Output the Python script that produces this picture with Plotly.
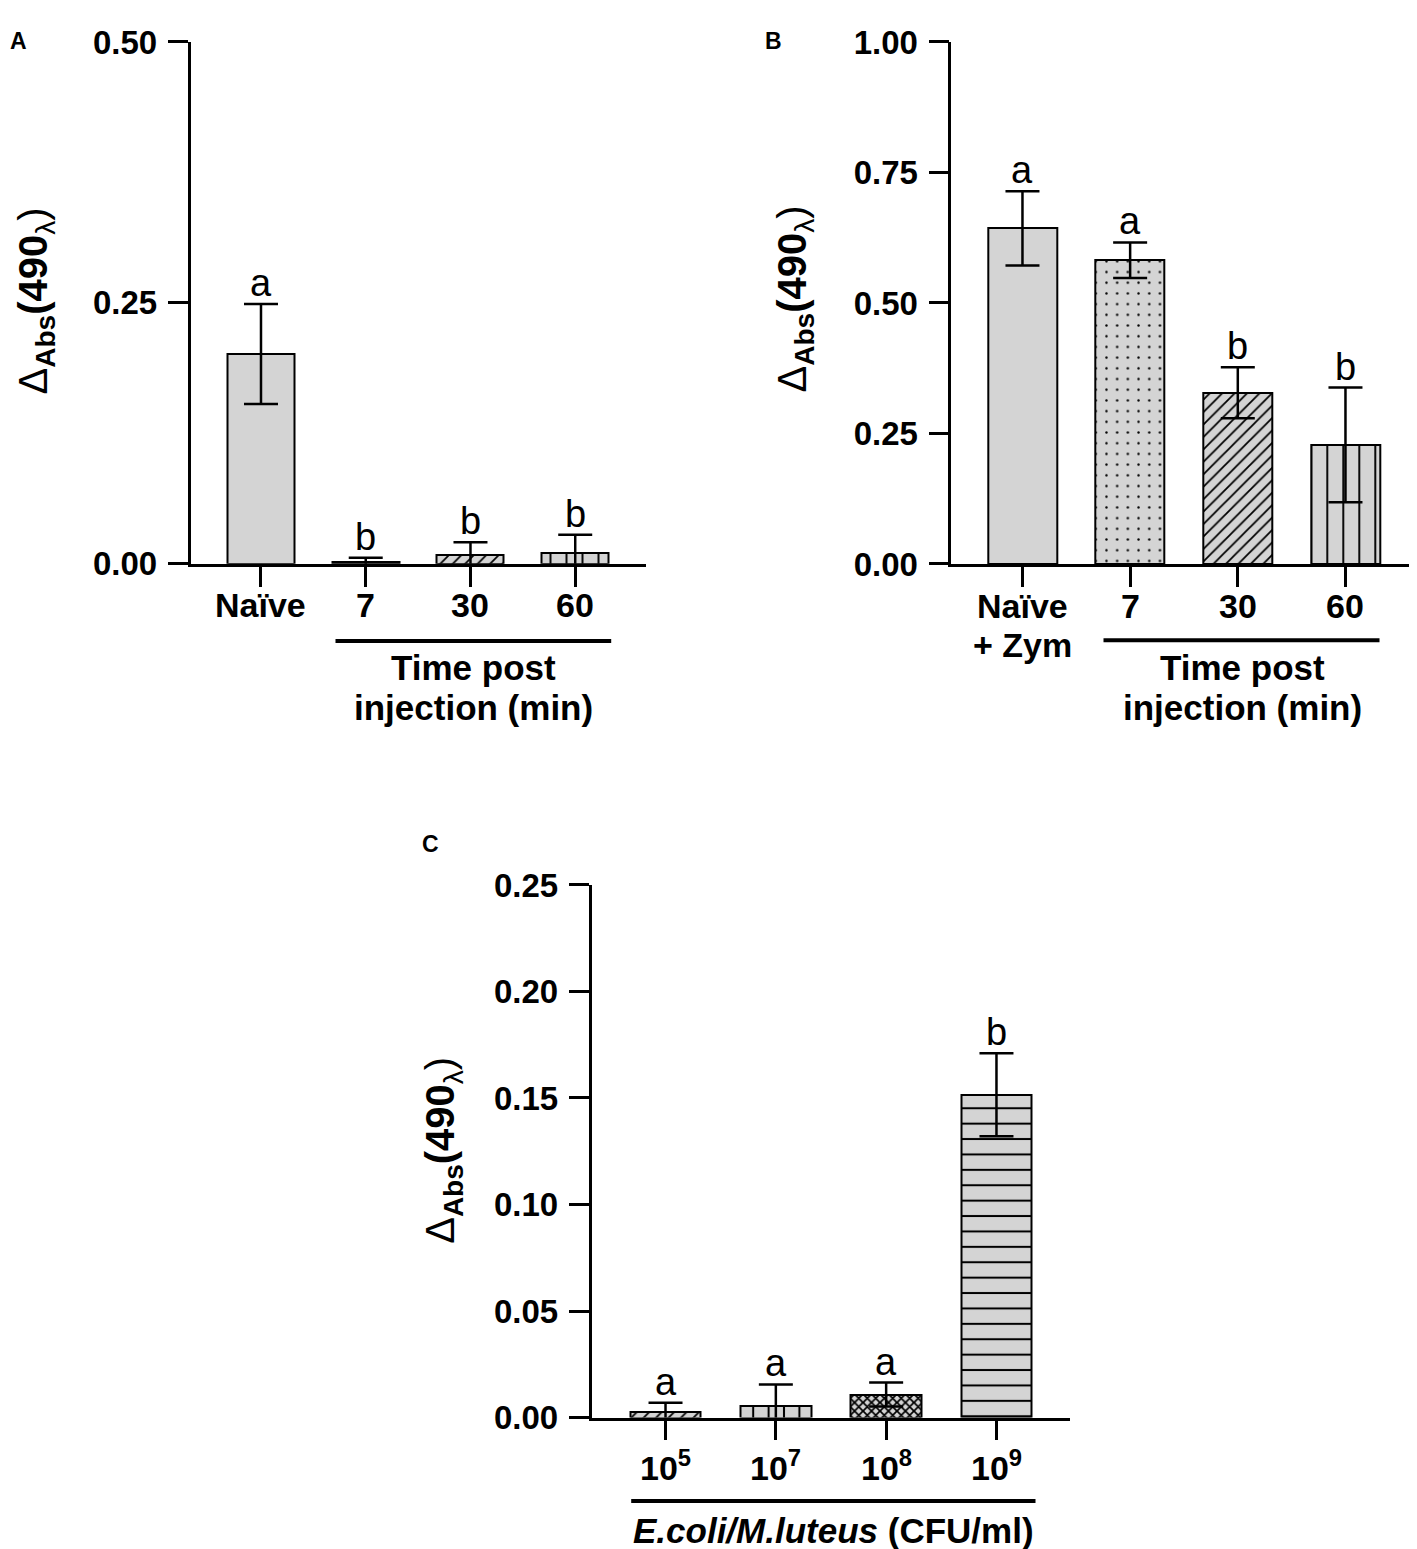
import plotly.graph_objects as go

# ---- data ----
a_labels = ["Naïve", "7", "30", "60"]
a_means = [0.201, 0.0022, 0.0086, 0.0102]
a_errs = [0.048, 0.0036, 0.012, 0.0176]
a_groups = ["a", "b", "b", "b"]

b_labels = ["Naïve", "7", "30", "60"]
b_means = [0.643, 0.582, 0.328, 0.228]
b_errs = [0.071, 0.034, 0.049, 0.110]
b_groups = ["a", "a", "b", "b"]

c_labels = ["10<sup>5</sup>", "10<sup>7</sup>", "10<sup>8</sup>", "10<sup>9</sup>"]
c_means = [0.0027, 0.0053, 0.0108, 0.1515]
c_errs = [0.0042, 0.0102, 0.0056, 0.0195]
c_groups = ["a", "a", "a", "b"]

W, H = 1417, 1549
FONT = "Liberation Sans, Arial, Helvetica, sans-serif"
GREY = "#d4d4d4"

# page offset seen in the rendered picture (body margin etc.)
OFF_X, OFF_Y, SCALE_Y = 7.5, 24.5, 0.978


def px_x(p):
    return max((p - OFF_X) / W, 0)


def px_y(p):
    return min(1 - ((p - OFF_Y) / SCALE_Y) / H, 1)


def make_pattern(shape, size=10, solidity=0.15):
    return dict(shape=shape, size=size, solidity=solidity,
                fillmode="replace", bgcolor=GREY, fgcolor="black")


a_patterns = [make_pattern(""), make_pattern(""), make_pattern("/", 8.8, 0.2), make_pattern("|", 16, 0.12)]
b_patterns = [make_pattern(""), make_pattern(".", 10.7, 0.04), make_pattern("/", 8.8, 0.2), make_pattern("|", 16, 0.12)]
c_patterns = [make_pattern("/", 8.8, 0.2), make_pattern("|", 15.4, 0.13), make_pattern("x", 6, 0.5), make_pattern("-", 15.4, 0.13)]

fig = go.Figure()

label_font = dict(family=FONT, size=34, color="black", weight="bold")


def add_panel(means, errs, patterns, groups, labels, xa, ya, width, label_y):
    xs = list(range(len(means)))
    for i in xs:
        fig.add_trace(go.Bar(
            x=[i], y=[means[i]], width=width,
            xaxis=xa, yaxis=ya,
            marker=dict(color=GREY, line=dict(color="black", width=2), pattern=patterns[i]),
            error_y=dict(type="data", array=[errs[i]], visible=True,
                         color="black", thickness=2.5, width=17),
            showlegend=False,
        ))
        fig.add_annotation(
            x=i, y=means[i] + errs[i], xref=xa, yref=ya,
            text=groups[i], showarrow=False, yanchor="bottom", yshift=-2,
            font=dict(family=FONT, size=38, color="black"),
        )
        # category label under the tick
        fig.add_annotation(
            x=i, y=px_y(label_y), xref=xa, yref="paper",
            text=labels[i], showarrow=False, xanchor="center", yanchor="middle",
            font=label_font,
        )


add_panel(a_means, a_errs, a_patterns, a_groups, a_labels, "x", "y", 0.64, 605)
add_panel(b_means, b_errs, b_patterns, b_groups, b_labels, "x2", "y2", 0.64, 606)
add_panel(c_means, c_errs, c_patterns, c_groups, c_labels, "x3", "y3", 0.643, 1467)

tickfont_y = dict(family=FONT, size=33, color="black", weight="bold")

common_x = dict(showgrid=False, zeroline=False, showline=True, linecolor="black", linewidth=2.5,
                ticks="outside", ticklen=20, tickwidth=2.5, tickcolor="black",
                showticklabels=False, tickvals=[0, 1, 2, 3])
common_y = dict(showgrid=False, zeroline=False, showline=True, linecolor="black", linewidth=2.5,
                ticks="outside", ticklen=20, tickwidth=2.5, tickcolor="black",
                tickfont=tickfont_y, tickformat=".2f", ticklabelstandoff=4)

fig.update_layout(
    width=W, height=H,
    margin=dict(l=0, r=0, t=0, b=0),
    paper_bgcolor="white", plot_bgcolor="white",
    bargap=0,
    xaxis=dict(common_x, domain=[px_x(190), px_x(645)], range=[-0.673, 3.671], anchor="y"),
    yaxis=dict(common_y, domain=[px_y(563.3), px_y(40.5)], range=[0, 0.5], dtick=0.25, anchor="x"),
    xaxis2=dict(common_x, domain=[px_x(950.8), px_x(1417)], range=[-0.661, 3.669], anchor="y2"),
    yaxis2=dict(common_y, domain=[px_y(563.5), px_y(40.5)], range=[0, 1.0], dtick=0.25, anchor="x2"),
    xaxis3=dict(common_x, domain=[px_x(591), px_x(1069)], range=[-0.671, 3.662], anchor="y3"),
    yaxis3=dict(common_y, domain=[px_y(1418.7), px_y(885.1)], range=[0, 0.25], dtick=0.05, anchor="x3"),
)

# group underlines below the x axes
for x0, x1, y in [(335, 610.7, 640.7), (1103, 1379, 640), (630.7, 1035, 1502.3)]:
    fig.add_shape(type="line", xref="paper", yref="paper",
                  x0=px_x(x0), x1=px_x(x1), y0=px_y(y), y1=px_y(y),
                  line=dict(color="black", width=4))

axis_font = dict(family=FONT, size=35, color="black", weight="bold")
texts = [
    ("Time post", 473, 667),
    ("injection (min)", 473, 707),
    ("Time post", 1241.5, 667),
    ("injection (min)", 1241.5, 707),
    ("<i>E.coli/M.luteus</i> (CFU/ml)", 833, 1532),
]
for txt, x, y in texts:
    fig.add_annotation(x=px_x(x), y=px_y(y), xref="paper", yref="paper", text=txt,
                       showarrow=False, xanchor="center", yanchor="middle", font=axis_font)

# second line of the first B category
fig.add_annotation(x=0, y=px_y(645), xref="x2", yref="paper", text="+ Zym",
                   showarrow=False, xanchor="center", yanchor="middle", font=label_font)

# y axis titles
ytitle = "Δ<sub><b>Abs</b></sub><b>(490</b><sub>λ</sub>)"
for x, y in [(35, 300), (794, 298), (443, 1151)]:
    fig.add_annotation(x=px_x(x), y=px_y(y), xref="paper", yref="paper", text=ytitle,
                       textangle=-90, showarrow=False, xanchor="center", yanchor="middle",
                       font=dict(family=FONT, size=40, color="black"))

# panel letters (the top strip of the page is not drawable, so pin them to the top edge)
for letter, x, y, anchor in [("A", 0, 0, "top"), ("B", 762, 0, "top"), ("C", 419, 844, "middle")]:
    fig.add_annotation(x=px_x(x), y=px_y(y), xref="paper", yref="paper", text=letter,
                       showarrow=False, xanchor="left", yanchor=anchor,
                       font=dict(family=FONT, size=23, color="black", weight="bold"))

fig.write_html("out.html")
